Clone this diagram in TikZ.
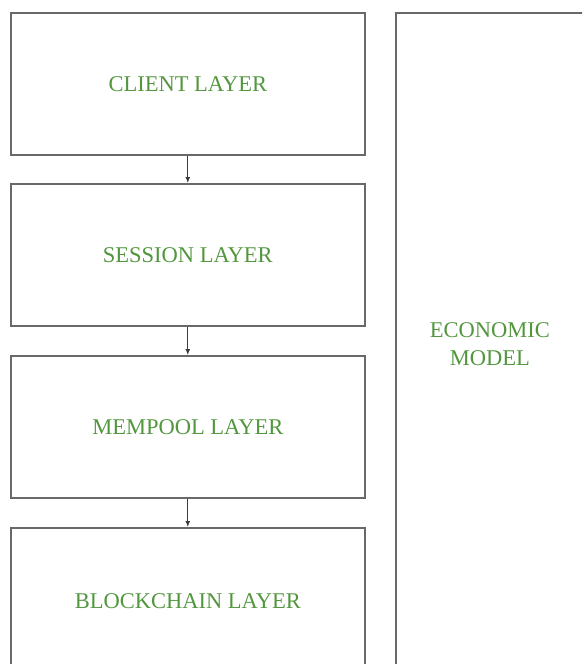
\documentclass[tikz,border=0pt]{standalone}
\usepackage{fontspec}
\setmainfont{Liberation Serif}
\usetikzlibrary{arrows.meta}
\definecolor{boxline}{RGB}{105,105,105}
\definecolor{arrowline}{RGB}{60,60,60}
\definecolor{txtgreen}{RGB}{82,150,62}
\tikzset{
  layerbox/.style={draw=boxline, line width=1.6pt, rectangle, inner sep=0pt, anchor=north west,
    minimum width=354pt, minimum height=142pt, text=txtgreen, font=\fontsize{22.5}{28}\selectfont, align=center},
  flowarrow/.style={draw=arrowline, line width=1pt, -{Latex[length=6pt,width=5pt]}}
}
\begin{document}
\begin{tikzpicture}[x=1pt,y=1pt]
\useasboundingbox (0,0) rectangle (582,-664);
\clip (0,0) rectangle (582,-664);
\node[layerbox] (client) at (10,-12) {CLIENT LAYER};
\node[layerbox] (session) at (10,-183) {SESSION LAYER};
\node[layerbox] (mempool) at (10,-355) {MEMPOOL LAYER};
\node[layerbox, minimum height=147pt] (chain) at (10,-527) {BLOCKCHAIN LAYER};
\node[layerbox, minimum width=188pt, minimum height=662pt] (econ) at (395,-12) {ECONOMIC\\MODEL};
\draw[flowarrow] (client.south) -- (session.north);
\draw[flowarrow] (session.south) -- (mempool.north);
\draw[flowarrow] (mempool.south) -- (chain.north);
\end{tikzpicture}
\end{document}
